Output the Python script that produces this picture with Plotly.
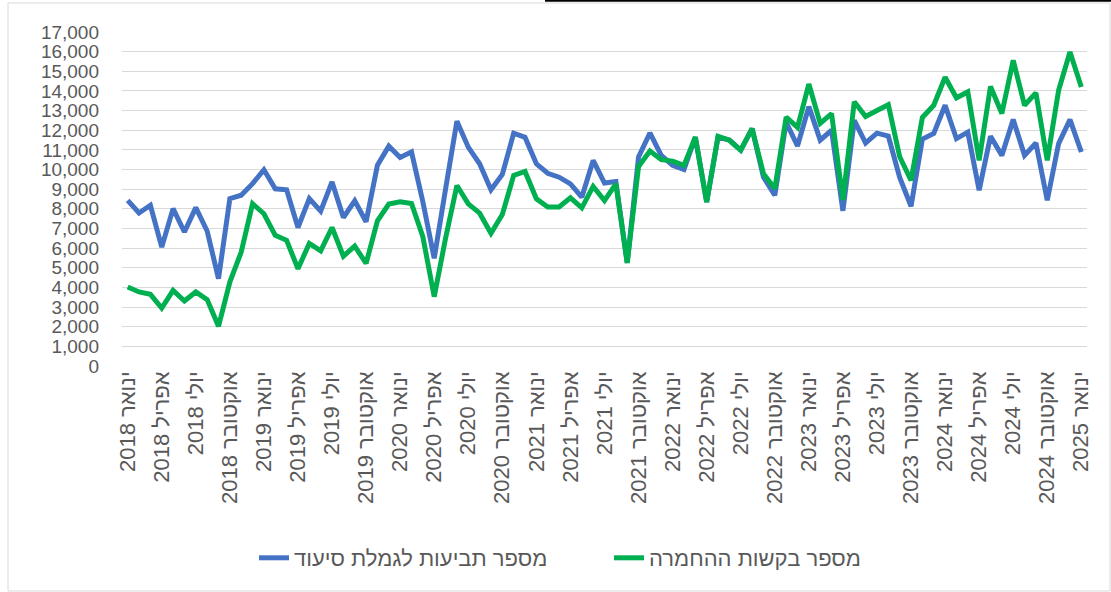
import plotly.graph_objects as go

months_he = ["ינואר", "פברואר", "מרץ", "אפריל", "מאי", "יוני", "יולי", "אוגוסט",
             "ספטמבר", "אוקטובר", "נובמבר", "דצמבר"]
years = [2018, 2019, 2020, 2021, 2022, 2023, 2024, 2025]

# monthly categories Jan 2018 .. Jan 2025
categories = []
for y in years:
    for m in months_he:
        categories.append(f"{m} {y}")
        if y == 2025:
            break
    if y == 2025:
        break

claims = [8430, 7790, 8180, 6050, 8010, 6820, 8060, 6870, 4440, 8520, 8690, 9280, 9990, 9020, 8970,
          7050, 8520, 7880, 9370, 7560, 8410, 7340, 10220, 11190, 10610, 10900, 8360, 5480, 9000,
          12460, 11140, 10290, 8970, 9750, 11850, 11640, 10290, 9810, 9610, 9270, 8590, 10460, 9310, 9390,
          5250, 10640, 11860, 10720, 10210, 10000, 11650, 8350, 11650, 11500, 10990, 12080, 9620, 8690,
          12400, 11200, 13200, 11500, 12000, 7900, 12500, 11350, 11850, 11700, 9600, 8130, 11550, 11840,
          13270, 11570, 11900, 8940, 11690, 10720, 12540, 10720, 11350, 8430, 11320, 12540, 10890]

aggravation = [4020, 3770, 3650, 2950, 3850, 3310, 3770, 3380, 2020, 4270, 5800, 8260, 7750, 6650, 6400,
               4950, 6240, 5860, 7050, 5590, 6100, 5220, 7390, 8240, 8360, 8270, 6580, 3530, 6500,
               9190, 8250, 7780, 6760, 7710, 9700, 9900, 8510, 8090, 8090, 8560, 8050, 9140, 8420, 9270,
               5250, 10160, 10940, 10500, 10430, 10210, 11650, 8350, 11690, 11490, 10980, 12080, 9790, 9030,
               12670, 12150, 14350, 12350, 12850, 8450, 13450, 12700, 13000, 13300, 10650, 9450, 12650, 13270,
               14700, 13650, 13950, 10470, 14230, 12850, 15560, 13270, 13900, 10470, 14030, 15980, 14200]

series_names = ["מספר תביעות לגמלת סיעוד", "מספר בקשות ההחמרה"]
series_colors = ["#4472C4", "#00B050"]

tick_cats = categories[::3]
tick_text = ["\u202b" + c + "\u202c" for c in tick_cats]

fig = go.Figure()
for name, vals, col in zip(series_names, [claims, aggravation], series_colors):
    fig.add_trace(go.Scatter(x=categories, y=vals, mode="lines", name=name,
                             line=dict(color=col, width=5)))

W, H = 1111, 592
L, R, T, B = 122, 24, 32, 226
pw, ph = W - L - R, H - T - B


def px_x(p):
    return (p - L) / pw


def px_y(p):
    return (H - B - p) / ph


fig.update_layout(
    width=W, height=H,
    margin=dict(l=L, r=R, t=T, b=B),
    paper_bgcolor="white", plot_bgcolor="white",
    font=dict(family="Liberation Sans, Arial, sans-serif", size=20, color="#595959"),
    xaxis=dict(type="category", categoryorder="array", categoryarray=categories,
               range=[-0.5, len(categories) - 0.5],
               tickmode="array", tickvals=tick_cats, ticktext=tick_text,
               tickangle=-90, showgrid=False, showline=False, zeroline=False,
               ticks="", tickfont=dict(size=22, color="#595959")),
    yaxis=dict(range=[0, 17000], dtick=1000, tickformat=",d",
               showgrid=True, gridcolor="#D9D9D9", gridwidth=1.3,
               zeroline=False, showline=False, ticks="", ticklabelstandoff=22,
               tickfont=dict(size=19, color="#595959")),
    legend=dict(orientation="h", x=px_x(609), xanchor="center",
                y=px_y(558), yanchor="middle",
                font=dict(size=22, color="#595959"),
                traceorder="normal", entrywidth=310),
    showlegend=True,
    shapes=[
        dict(type="rect", xref="paper", yref="paper",
             x0=px_x(8), x1=px_x(1110), y0=px_y(591), y1=px_y(3),
             line=dict(color="#D9D9D9", width=1), fillcolor="rgba(0,0,0,0)", layer="below"),
        dict(type="line", xref="paper", yref="paper",
             x0=px_x(545), x1=px_x(1111), y0=px_y(0.8), y1=px_y(0.8),
             line=dict(color="black", width=2)),
    ],
)

fig.write_html("out.html", config={"displayModeBar": False},
               post_script="document.body.style.margin='0';")
